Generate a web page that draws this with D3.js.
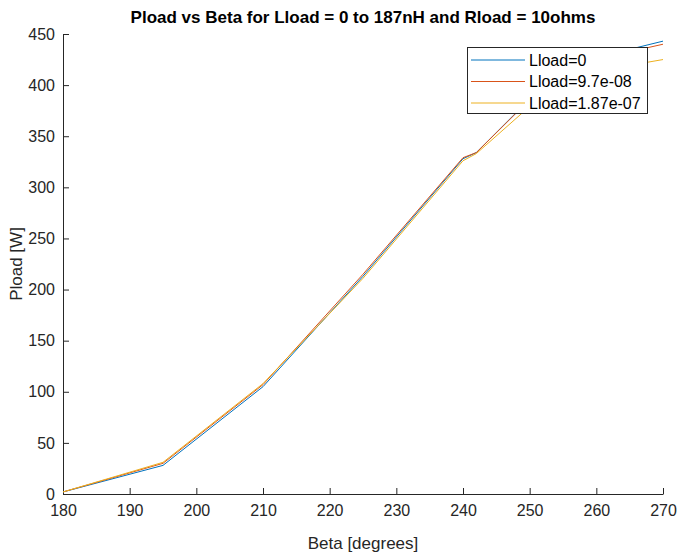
<!DOCTYPE html>
<html><head><meta charset="utf-8">
<script src="https://cdn.jsdelivr.net/npm/d3@7"></script>
<style>body{margin:0;background:#fff}svg{display:block}text{font-family:"Liberation Sans",Arial,sans-serif}</style>
</head><body><svg id="c" width="678" height="557"></svg>
<script>
const beta = [180, 195, 210, 225, 240, 242, 255, 270];
const pL0 = [2, 28, 105, 213, 328, 334, 419, 443];
const pL97 = [2, 30, 107, 215, 329, 334, 418, 440];
const pL187 = [2, 31, 108, 211, 326, 333, 408, 425];
const seriesNames = ["Lload=0", "Lload=9.7e-08", "Lload=1.87e-07"];
const colors = ["#0072BD", "#D95319", "#EDB120"];
const xTicks = [180,190,200,210,220,230,240,250,260,270];
const yTicks = [0,50,100,150,200,250,300,350,400,450];

const svg = d3.select("#c");
const m = {l:63, r:663, t:34, b:494};
const x = d3.scaleLinear().domain([180,270]).range([m.l, m.r]);
const y = d3.scaleLinear().domain([0,450]).range([m.b, m.t]);
const ink = "#262626";

const xa = svg.append("g").attr("transform",`translate(0,${m.b})`)
  .call(d3.axisBottom(x).tickValues(xTicks).tickSizeInner(-6).tickSizeOuter(0).tickPadding(11));
const ya = svg.append("g").attr("transform",`translate(${m.l},0)`)
  .call(d3.axisLeft(y).tickValues(yTicks).tickSizeInner(-6).tickSizeOuter(0).tickPadding(8));
[xa,ya].forEach(a=>{
  a.selectAll("path,line").attr("stroke", ink).attr("stroke-width",1);
  a.selectAll("text").attr("fill", ink).style("font-size","16px");
});

const data = [pL0, pL97, pL187];
const line = d3.line().x((d,i)=>x(beta[i])).y(d=>y(d));
const plot = svg.append("g");
data.forEach((s,k)=>{
  plot.append("path").datum(s).attr("d", line).attr("fill","none")
    .attr("stroke", colors[k]).attr("stroke-width",1);
});

svg.append("text").attr("x",363).attr("y",23).attr("text-anchor","middle")
  .style("font-size","17px").style("font-weight","bold").attr("fill","#000")
  .text("Pload vs Beta for Lload = 0 to 187nH and Rload = 10ohms");
svg.append("text").attr("x",363).attr("y",549).attr("text-anchor","middle")
  .style("font-size","17px").attr("fill",ink).text("Beta [degrees]");
svg.append("text").attr("transform","translate(22,264) rotate(-90)").attr("text-anchor","middle")
  .style("font-size","17px").attr("fill",ink).text("Pload [W]");

// legend
const lg = svg.append("g");
lg.append("rect").attr("x",467.5).attr("y",47.5).attr("width",180).attr("height",66)
  .attr("fill","#fff").attr("stroke","#262626").attr("stroke-width",1);
seriesNames.forEach((n,k)=>{
  const yy = 60 + k*21.5;
  lg.append("line").attr("x1",471).attr("x2",525).attr("y1",yy).attr("y2",yy)
    .attr("stroke",colors[k]).attr("stroke-width",1);
  lg.append("text").attr("x",529).attr("y",yy+5.5).style("font-size","16px").attr("fill","#000").text(n);
});
</script></body></html>
